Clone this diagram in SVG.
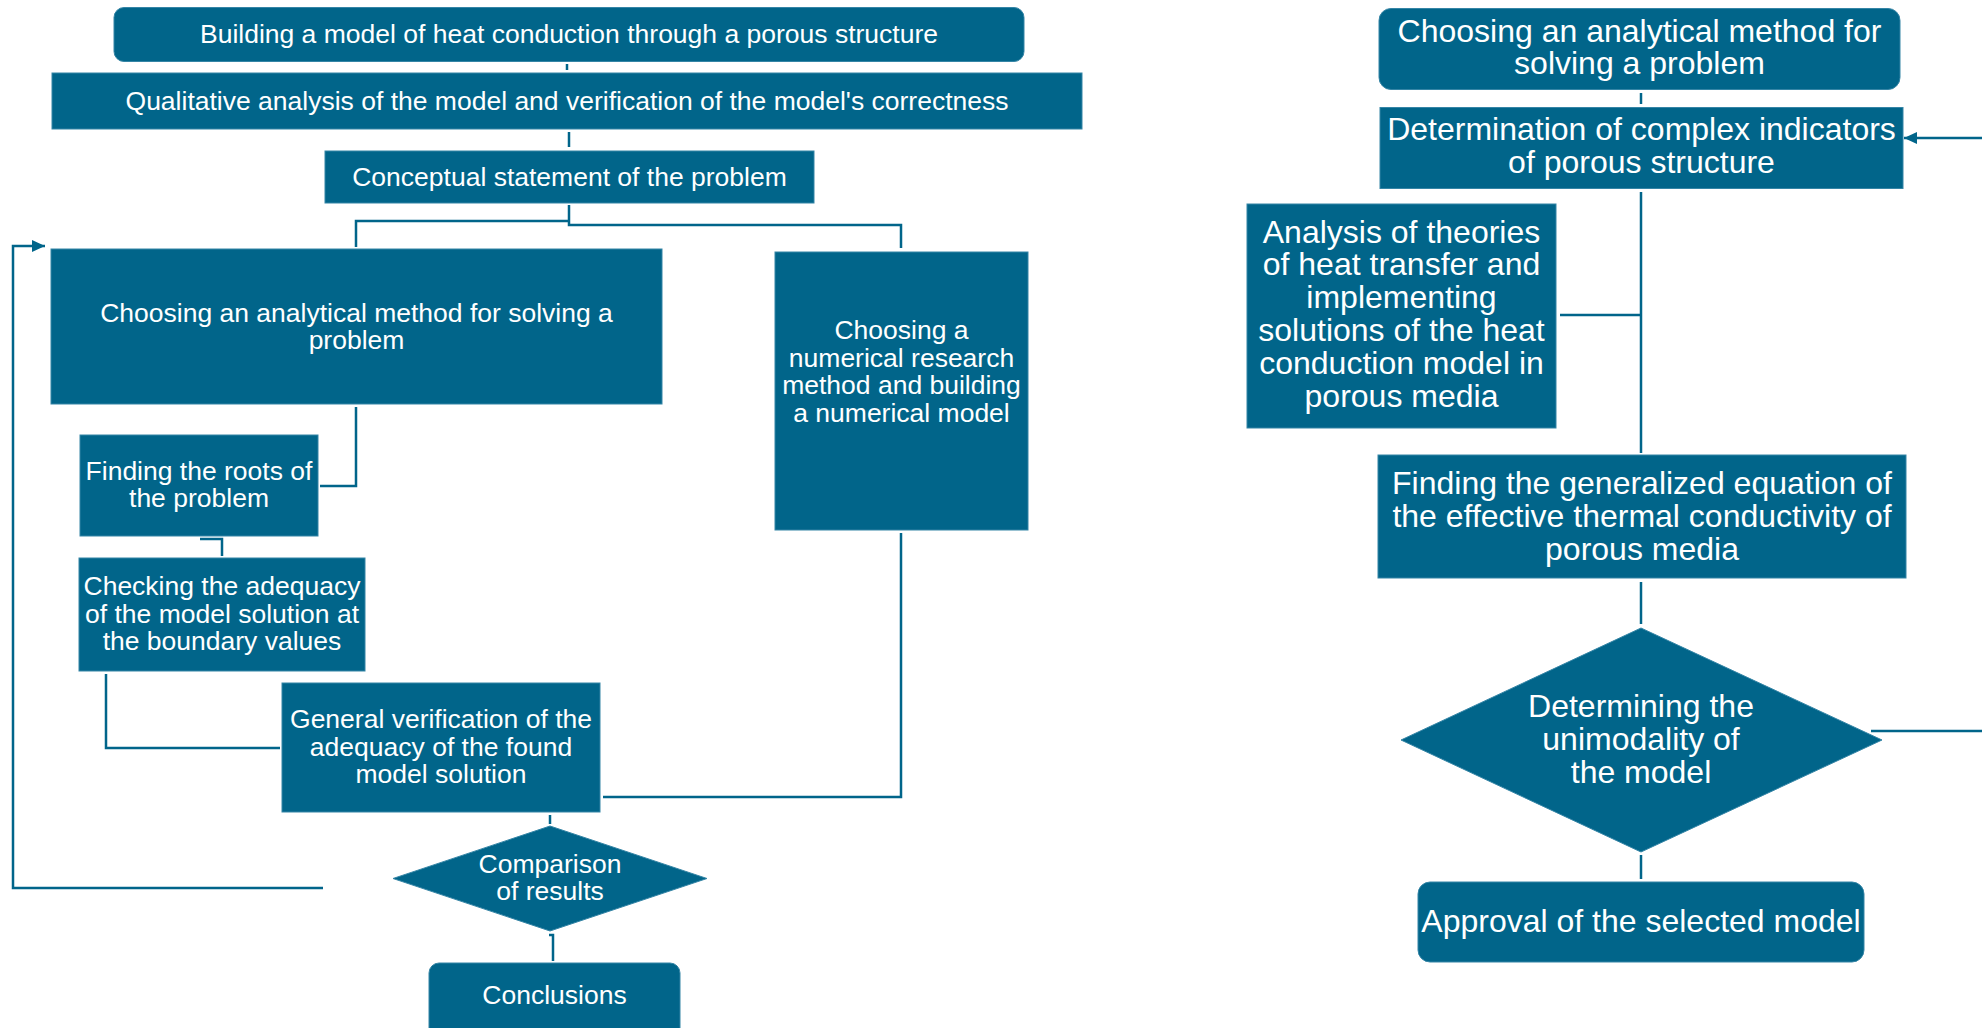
<svg xmlns="http://www.w3.org/2000/svg" width="1982" height="1028" viewBox="0 0 1982 1028">
<style>
.n{fill:#01658A;stroke:#3585a6;stroke-width:1}
.tl{font-family:"Liberation Sans",Arial,sans-serif;font-size:26.5px;fill:#ffffff;text-anchor:middle}
.tr{font-family:"Liberation Sans",Arial,sans-serif;font-size:32px;fill:#ffffff;text-anchor:middle}
.c{fill:none;stroke:#01658A;stroke-width:2.5}
</style>
<defs>
<marker id="ah" markerWidth="14" markerHeight="14" refX="13" refY="7" orient="auto" markerUnits="userSpaceOnUse">
<path d="M0,1 L13,7 L0,13 Z" fill="#01658A"/>
</marker>
</defs>
<rect width="1982" height="1028" fill="#ffffff"/>
<g id="connectors">
<path class="c" d="M567,64 V70"/>
<path class="c" d="M569,132 V147"/>
<path class="c" d="M569,205 V225 H901 V248"/>
<path class="c" d="M569,221 H356 V247"/>
<path class="c" d="M356,407 V486 H320"/>
<path class="c" d="M200,539 H222 V556"/>
<path class="c" d="M106,674 V748 H280"/>
<path class="c" d="M901,533 V797 H603"/>
<path class="c" d="M550,815 V824"/>
<path class="c" d="M549,935 H553 V961"/>
<path class="c" d="M323,888 H13 V246 H45" marker-end="url(#ah)"/>
<path class="c" d="M1641,93 V104"/>
<path class="c" d="M1641,192 V453"/>
<path class="c" d="M1560,315 H1641"/>
<path class="c" d="M1641,582 V624"/>
<path class="c" d="M1641,855 V879"/>
<path class="c" d="M1871,731 H1982"/>
<path class="c" d="M1982,138 H1904" marker-end="url(#ah)"/>
</g>
<g id="n1"><rect class="n" x="114" y="7.5" width="910" height="54" rx="10"/><text class="tl" x="569" y="43">Building a model of heat conduction through a porous structure</text></g>
<g id="n2"><rect class="n" x="52" y="73" width="1030" height="56"/><text class="tl" x="567" y="110">Qualitative analysis of the model and verification of the model's correctness</text></g>
<g id="n3"><rect class="n" x="325" y="151" width="489" height="52"/><text class="tl" x="569.5" y="186">Conceptual statement of the problem</text></g>
<g id="n4"><rect class="n" x="51" y="249" width="611" height="155"/><text class="tl" x="356.5" y="322">Choosing an analytical method for solving a</text><text class="tl" x="356.5" y="349">problem</text></g>
<g id="n5"><rect class="n" x="775" y="252" width="253" height="278"/><text class="tl" x="901.5" y="339">Choosing a</text><text class="tl" x="901.5" y="366.5">numerical research</text><text class="tl" x="901.5" y="394">method and building</text><text class="tl" x="901.5" y="421.5">a numerical model</text></g>
<g id="n6"><rect class="n" x="80" y="435" width="238" height="101"/><text class="tl" x="199" y="480">Finding the roots of</text><text class="tl" x="199" y="507">the problem</text></g>
<g id="n7"><rect class="n" x="79" y="558" width="286" height="113"/><text class="tl" x="222" y="595">Checking the adequacy</text><text class="tl" x="222" y="622.5">of the model solution at</text><text class="tl" x="222" y="650">the boundary values</text></g>
<g id="n8"><rect class="n" x="282" y="683" width="318" height="129"/><text class="tl" x="441" y="728">General verification of the</text><text class="tl" x="441" y="755.5">adequacy of the found</text><text class="tl" x="441" y="783">model solution</text></g>
<g id="n9"><polygon class="n" points="550,826 707,878.5 550,931 393,878.5"/><text class="tl" x="550" y="872.5">Comparison</text><text class="tl" x="550" y="900">of results</text></g>
<g id="n10"><rect class="n" x="429" y="963" width="251" height="90" rx="10"/><text class="tl" x="554.5" y="1004">Conclusions</text></g>
<g id="r1"><rect class="n" x="1379" y="8.5" width="521" height="81" rx="12"/><text class="tr" x="1639.5" y="41.5">Choosing an analytical method for</text><text class="tr" x="1639.5" y="74">solving a problem</text></g>
<g id="r2"><rect class="n" x="1380" y="107.5" width="523" height="81"/><text class="tr" x="1641.5" y="140">Determination of complex indicators</text><text class="tr" x="1641.5" y="173">of porous structure</text></g>
<g id="r3"><rect class="n" x="1247" y="204" width="309" height="224"/><text class="tr" x="1401.5" y="242.5">Analysis of theories</text><text class="tr" x="1401.5" y="275.3">of heat transfer and</text><text class="tr" x="1401.5" y="308.1">implementing</text><text class="tr" x="1401.5" y="340.9">solutions of the heat</text><text class="tr" x="1401.5" y="373.7">conduction model in</text><text class="tr" x="1401.5" y="406.5">porous media</text></g>
<g id="r4"><rect class="n" x="1378" y="455" width="528" height="123"/><text class="tr" x="1642" y="493.5">Finding the generalized equation of</text><text class="tr" x="1642" y="526.5">the effective thermal conductivity of</text><text class="tr" x="1642" y="559.5">porous media</text></g>
<g id="r5"><polygon class="n" points="1641,628 1882,740 1641,852 1401,740"/><text class="tr" x="1641" y="716.5">Determining the</text><text class="tr" x="1641" y="749.5">unimodality of</text><text class="tr" x="1641" y="782.5">the model</text></g>
<g id="r6"><rect class="n" x="1418" y="882" width="446" height="80" rx="12"/><text class="tr" x="1641" y="932">Approval of the selected model</text></g>
</svg>
